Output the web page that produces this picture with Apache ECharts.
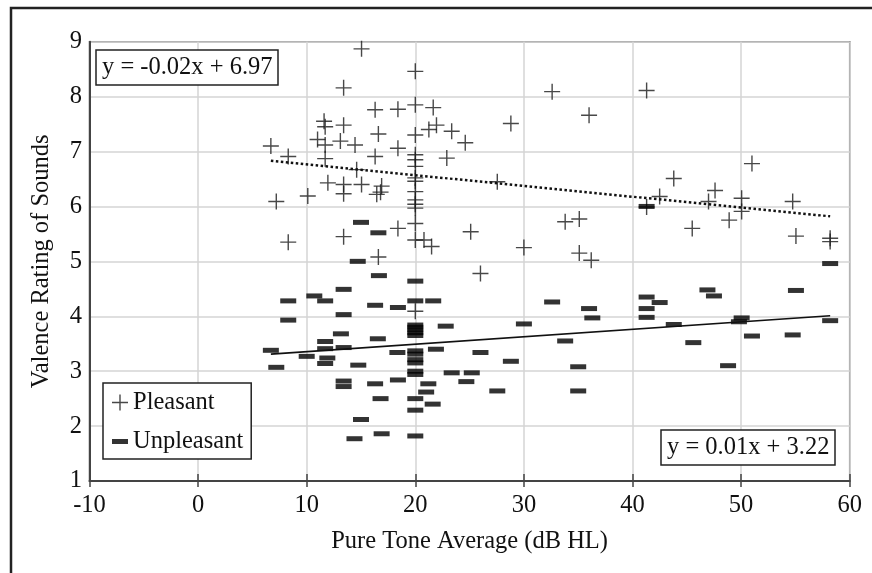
<!DOCTYPE html>
<html>
<head>
<meta charset="utf-8">
<script src="https://cdn.jsdelivr.net/npm/echarts@6/dist/echarts.min.js"></script>
<style>
html,body{margin:0;padding:0;background:#fff;}
#chart{width:872px;height:573px;}
</style>
</head>
<body>
<div id="chart"></div>
<script>
// ---- data ----
const xTicks = [-10, 0, 10, 20, 30, 40, 50, 60];
const yTicks = [1, 2, 3, 4, 5, 6, 7, 8, 9];
const xTitle = 'Pure Tone Average (dB HL)';
const yTitle = 'Valence Rating of Sounds';
const pleasantEq = 'y = -0.02x + 6.97';
const unpleasantEq = 'y = 0.01x + 3.22';

const pleasant = [
  [6.7,7.10],[8.3,6.91],[7.2,6.09],[8.3,5.35],[10.1,6.19],
  [11.6,7.55],[11.7,7.45],[13.4,7.48],[11.0,7.22],[11.7,7.12],[13.1,7.19],[14.45,7.12],
  [11.7,6.87],[14.6,6.67],[16.3,6.91],[16.6,7.32],[18.4,7.06],[16.3,7.76],[18.4,7.77],
  [13.4,8.16],[15.05,8.87],[20.0,8.46],[20.0,7.85],[21.65,7.80],[21.25,7.40],[21.95,7.48],
  [20.0,7.30],[11.95,6.43],[13.4,6.40],[15.05,6.40],[13.4,6.23],[16.9,6.37],[16.45,6.22],[16.8,6.26],
  [13.4,5.45],[16.6,5.08],[18.4,5.60],[20.0,5.39],[20.8,5.39],[21.5,5.27],
  [20.0,6.94],[20.0,6.85],[20.0,6.73],[20.0,6.52],[20.0,6.46],[20.0,6.27],[20.0,6.12],[20.0,6.04],[20.0,5.97],[20.0,5.69],[20.0,4.09],
  [23.35,7.37],[24.6,7.16],[22.9,6.88],[28.8,7.51],[32.6,8.09],[36.0,7.66],[41.3,8.11],
  [27.55,6.45],[25.1,5.54],[26.0,4.78],[30.0,5.25],[33.8,5.72],[35.1,5.77],[35.1,5.15],[36.2,5.02],
  [41.3,5.99],[42.5,6.18],[43.8,6.51],[45.5,5.60],[47.0,6.09],[47.6,6.29],[50.05,6.15],[50.05,5.91],
  [48.9,5.75],[51.0,6.78],[54.75,6.09],[55.05,5.46],[58.2,5.42],[58.2,5.36]
];

const unpleasant = [
  [6.7,3.38],[7.2,3.07],[8.3,4.28],[8.3,3.93],[10.0,3.27],[10.7,4.37],[11.7,4.28],
  [11.7,3.54],[11.7,3.41],[11.9,3.24],[11.7,3.14],[13.4,4.49],[13.4,4.03],[13.15,3.68],
  [13.4,3.43],[13.4,2.82],[13.4,2.72],[14.75,3.11],[15.0,2.12],[14.4,1.77],
  [16.3,4.20],[16.55,3.59],[16.3,2.77],[16.8,2.50],[16.9,1.86],[18.4,4.16],[18.35,3.34],[18.4,2.84],
  [15.0,5.71],[16.6,5.52],[14.7,5.00],[16.65,4.74],
  [20.0,4.64],[20.0,4.28],[20.0,3.65],[20.0,3.70],[20.0,3.75],[20.0,3.80],[20.0,3.84],
  [20.0,3.37],[20.0,3.31],[20.0,3.21],[20.0,3.15],[20.0,3.00],[20.0,2.94],
  [20.0,2.50],[20.0,2.29],[20.0,1.82],
  [21.65,4.28],[22.8,3.82],[21.9,3.40],[21.2,2.77],[21.0,2.62],[21.6,2.40],
  [23.35,2.97],[25.2,2.97],[24.7,2.81],[26.0,3.34],[28.8,3.18],[27.55,2.64],[30.0,3.86],
  [32.6,4.26],[33.8,3.55],[36.0,4.14],[36.3,3.97],[35.0,3.08],[35.0,2.64],
  [41.3,6.00],[41.3,4.35],[41.3,4.14],[42.5,4.25],[41.3,3.98],[43.8,3.85],[45.6,3.52],
  [46.9,4.48],[47.5,4.37],[48.8,3.10],[50.05,3.97],[49.8,3.90],[51.0,3.64],
  [55.05,4.47],[54.75,3.66],[58.2,3.92],[58.2,4.96]
];

const pleasantTrend = [[6.7,6.83],[58.2,5.82]];
const unpleasantTrend = [[6.7,3.31],[58.2,4.01]];

// ---- chart ----
const FONT = 'Liberation Serif';
const FS = 24.5;
const plusPath = 'path://M7.3,0H8.7V7.3H16V8.7H8.7V16H7.3V8.7H0V7.3H7.3Z';
const dashPath = 'path://M0,0H16V5H0Z';

const chart = echarts.init(document.getElementById('chart'), null, {renderer:'canvas'});
const xAxisBase = {
  type:'value', min:xTicks[0], max:xTicks[xTicks.length-1], interval:10, gridIndex:0
};
const option = {
  backgroundColor:'#fff',
  animation:false,
  textStyle:{fontFamily:FONT},
  grid:{left:89.5, right:22.3, top:41.7, bottom:92, show:true, borderColor:'#555', borderWidth:1.5},
  title:[
    {text:pleasantEq, left:96, top:50, padding:[5,6,5,6], borderColor:'#222', borderWidth:1.5,
     backgroundColor:'#fff',
     textStyle:{fontFamily:FONT, fontSize:FS, fontWeight:'normal', color:'#111', lineHeight:25}},
    {text:unpleasantEq, left:661, top:430, padding:[5,6,5,6], borderColor:'#222', borderWidth:1.5,
     backgroundColor:'#fff',
     textStyle:{fontFamily:FONT, fontSize:FS, fontWeight:'normal', color:'#111', lineHeight:25}}
  ],
  legend:{
    orient:'vertical', left:103, top:383,
    padding:[7,8,5,9], itemGap:14, itemWidth:16, itemHeight:16,
    borderColor:'#222', borderWidth:1.5, backgroundColor:'#fff',
    textStyle:{fontFamily:FONT, fontSize:FS, color:'#111', lineHeight:25},
    data:[{name:'Pleasant', icon:plusPath},{name:'Unpleasant', icon:dashPath}]
  },
  xAxis:[
    Object.assign({}, xAxisBase, {
      position:'bottom',
      name:xTitle, nameLocation:'middle', nameGap:48,
      nameTextStyle:{fontFamily:FONT, fontSize:FS, color:'#111'},
      axisLine:{show:true, onZero:false, lineStyle:{color:'#444', width:2}},
      axisTick:{show:true, length:6, lineStyle:{color:'#444', width:1.5}},
      axisLabel:{fontFamily:FONT, fontSize:FS, color:'#111', margin:12},
      splitLine:{show:true, lineStyle:{color:'#d4d4d4', width:1.5}}
    }),
    Object.assign({}, xAxisBase, {
      position:'bottom',
      axisLine:{show:false, onZero:false},
      axisTick:{show:true, inside:true, length:7, lineStyle:{color:'#444', width:1.5}},
      axisLabel:{show:false},
      splitLine:{show:false}
    })
  ],
  yAxis:{
    type:'value', min:yTicks[0], max:yTicks[yTicks.length-1], interval:1,
    name:yTitle, nameLocation:'middle', nameGap:35, nameRotate:90,
    nameTextStyle:{fontFamily:FONT, fontSize:FS, color:'#111'},
    axisLine:{show:true, onZero:false, lineStyle:{color:'#444', width:2}},
    axisTick:{show:false},
    axisLabel:{fontFamily:FONT, fontSize:FS, color:'#111', margin:7.5},
    splitLine:{show:true, lineStyle:{color:'#d4d4d4', width:1.5}}
  },
  series:[
    {name:'Pleasant', type:'scatter', data:pleasant, symbol:plusPath, symbolSize:16,
     itemStyle:{color:'#1a1a1a'}, z:3},
    {name:'Unpleasant', type:'scatter', data:unpleasant, symbol:'rect', symbolSize:[16,5],
     itemStyle:{color:'#000'}, z:3},
    {name:'Pleasant trend', type:'line', data:pleasantTrend, symbol:'none',
     lineStyle:{color:'#111', width:2.5, type:[2.5,2.5]}, z:4},
    {name:'Unpleasant trend', type:'line', data:unpleasantTrend, symbol:'none',
     lineStyle:{color:'#111', width:1.6, type:'solid'}, z:4}
  ],
  graphic:[
    {type:'rect', silent:true, z:100,
     shape:{x:11, y:8, width:2000, height:2000},
     style:{fill:null, stroke:'#222', lineWidth:2.5}}
  ]
};
chart.setOption(option);
</script>
</body>
</html>
